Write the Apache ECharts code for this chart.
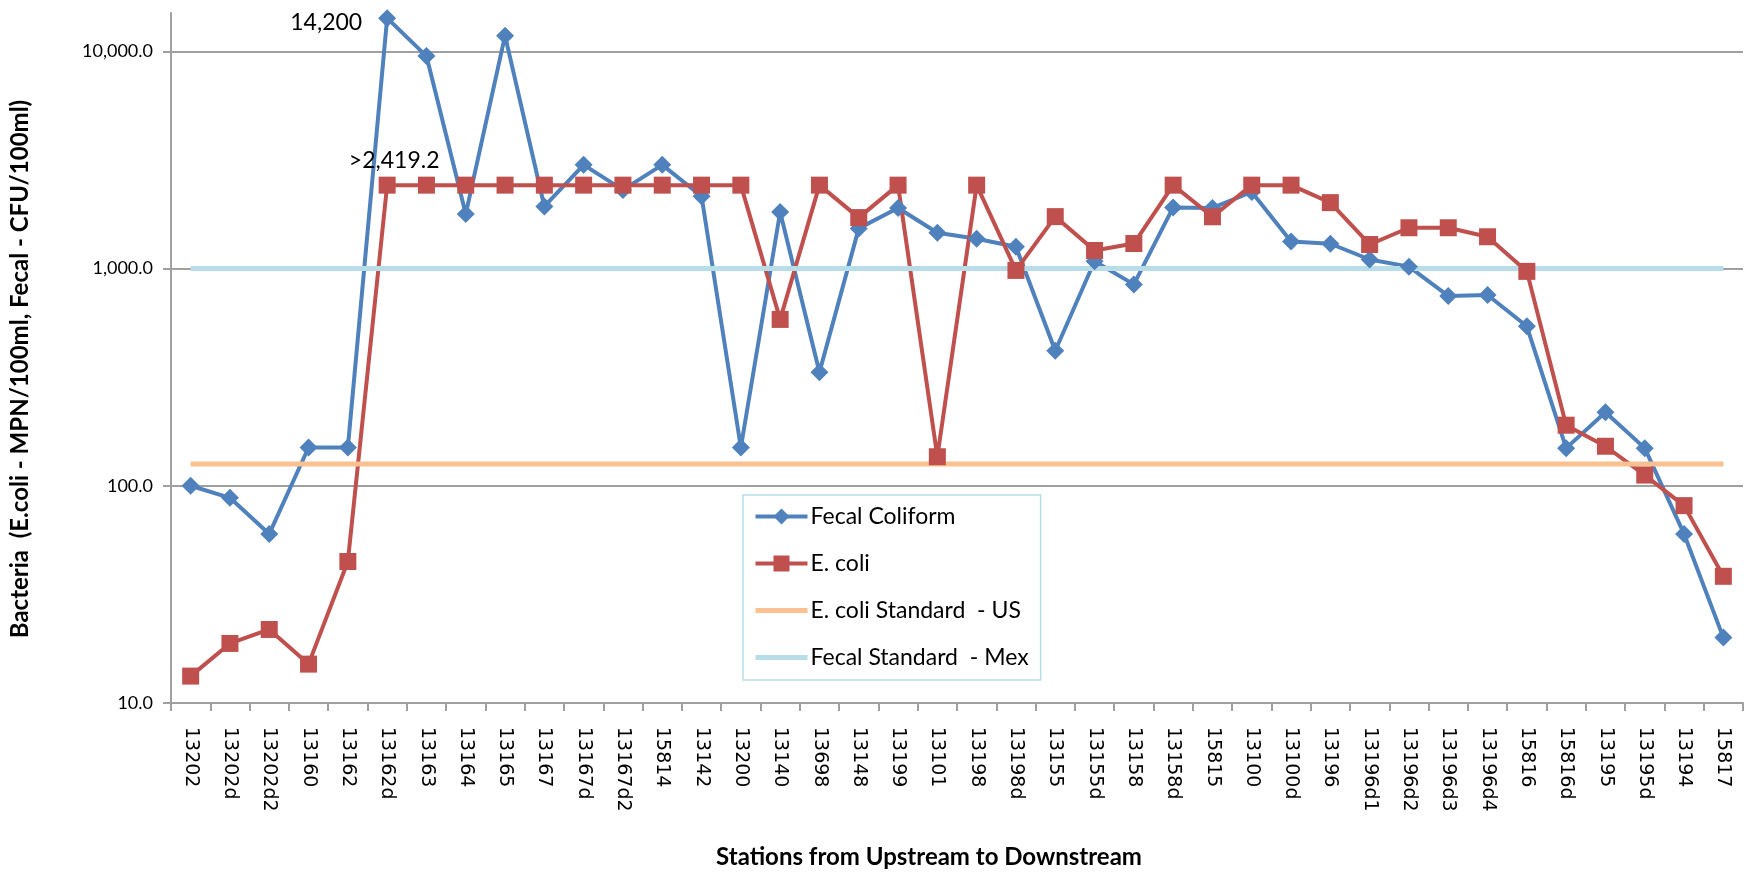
<!DOCTYPE html>
<html>
<head>
<meta charset="utf-8">
<title>Bacteria by station</title>
<script src="https://cdn.jsdelivr.net/npm/echarts@6/dist/echarts.min.js"></script>
<style>
  html, body { margin: 0; padding: 0; background: #fff; }
  #main { width: 1750px; height: 874px; }
</style>
</head>
<body>
<div id="main"></div>
<script>
// stations, upstream -> downstream
var stations = ['13202', '13202d', '13202d2', '13160', '13162', '13162d', '13163', '13164', '13165', '13167',
    '13167d', '13167d2', '15814', '13142', '13200', '13140', '13698', '13148', '13199', '13101',
    '13198', '13198d', '13155', '13155d', '13158', '13158d', '15815', '13100', '13100d', '13196',
    '13196d1', '13196d2', '13196d3', '13196d4', '15816', '15816d', '13195', '13195d', '13194', '15817'];

// Fecal coliform (CFU/100ml)
var fecal = [100, 88, 60, 150, 150, 14200, 9500, 1780, 11800, 1930,
    3000, 2300, 3000, 2150, 150, 1820, 333, 1530, 1900, 1460,
    1370, 1260, 418, 1080, 845, 1910, 1900, 2250, 1330, 1300,
    1100, 1020, 748, 755, 542, 149, 218, 149, 60, 20];

// E. coli (MPN/100ml), 2419.2 = upper detection limit
var ecoli = [13.3, 18.8, 21.8, 15.1, 44.8, 2419.2, 2419.2, 2419.2, 2419.2, 2419.2,
    2419.2, 2419.2, 2419.2, 2419.2, 2419.2, 583, 2419.2, 1715, 2419.2, 136,
    2419.2, 980, 1733, 1210, 1303, 2419.2, 1730, 2419.2, 2419.2, 2010,
    1290, 1540, 1540, 1400, 970, 190, 152, 112, 81, 38.3];

var usStandard = 126;    // E. coli standard - US
var mexStandard = 1000;  // Fecal standard - Mex

var yTicks = [10, 100, 1000, 10000];
var yMax = 15000;

var names = ['Fecal Coliform', 'E. coli', 'E. coli Standard  - US', 'Fecal Standard  - Mex'];

var fontCal = 'Lato, "Open Sans", sans-serif';
var fontTah = '"DejaVu Sans", Verdana, sans-serif';

// put a data label on one point only
function withLabel(arr, idx, text, pos, dist, off) {
    return arr.map(function (v, i) {
        if (i !== idx) return v;
        return {
            value: v,
            label: { show: true, formatter: text, position: pos, distance: dist, offset: off,
                     color: '#000', fontFamily: fontCal, fontSize: 23 }
        };
    });
}

var myChart = echarts.init(document.getElementById('main'));

var option = {
    animation: false,
    grid: { left: 171, right: 7, top: 13, bottom: 169 },
    legend: {
        orient: 'vertical',
        left: 743,
        top: 495,
        padding: [10, 12, 11, 10],
        itemGap: 24,
        itemWidth: 52,
        itemHeight: 20,
        borderColor: '#B7DEE8',
        borderWidth: 1.5,
        backgroundColor: '#fff',
        lineStyle: { width: 4 },
        textStyle: { fontFamily: fontCal, fontSize: 23, color: '#000', padding: [0, 0, 0, -2] },
        data: [
            names[0],
            names[1],
            { name: names[2], itemStyle: { opacity: 0 }, lineStyle: { width: 5 } },
            { name: names[3], itemStyle: { opacity: 0 }, lineStyle: { width: 5 } }
        ]
    },
    xAxis: {
        type: 'category',
        data: stations,
        boundaryGap: true,
        name: 'Stations from Upstream to Downstream',
        nameLocation: 'middle',
        nameGap: 142,
        nameTextStyle: { fontFamily: fontCal, fontWeight: 'bold', fontSize: 24, color: '#000',
                         padding: [0, 56, 0, 0] },
        axisLine: { lineStyle: { color: '#A0A0A0', width: 2 } },
        axisTick: { show: true, interval: 0, length: 8, lineStyle: { color: '#A0A0A0', width: 2 } },
        axisLabel: { interval: 0, rotate: -90, margin: 24, fontFamily: fontTah, fontSize: 19, color: '#000' },
        splitLine: { show: false }
    },
    yAxis: {
        type: 'log',
        logBase: 10,
        min: yTicks[0],
        max: yMax,
        name: 'Bacteria  (E.coli - MPN/100ml, Fecal - CFU/100ml)',
        nameLocation: 'middle',
        nameGap: 139,
        nameTextStyle: { fontFamily: fontCal, fontWeight: 'bold', fontSize: 24, color: '#000',
                         padding: [0, 22, 0, 0] },
        axisLine: { show: true, lineStyle: { color: '#A0A0A0', width: 2 } },
        axisTick: { show: true, length: 8, lineStyle: { color: '#A0A0A0', width: 2 } },
        axisLabel: {
            showMaxLabel: false,
            margin: 18,
            fontFamily: fontCal, fontSize: 18, color: '#000',
            formatter: function (v) {
                return v.toLocaleString('en-US', { minimumFractionDigits: 1, maximumFractionDigits: 1 });
            }
        },
        splitLine: { show: true, showMaxLine: false, lineStyle: { color: '#A0A0A0', width: 2 } }
    },
    series: [
        {
            name: names[0],
            type: 'line',
            data: withLabel(fecal, 5, '14,200', 'left', 16, [0, 4]),
            symbol: 'diamond',
            symbolSize: 18,
            color: '#4F81BD',
            lineStyle: { width: 4, color: '#4F81BD' },
            itemStyle: { color: '#4F81BD' }
        },
        {
            name: names[1],
            type: 'line',
            data: withLabel(ecoli, 5, '>2,419.2', 'top', 5, [7, 0]),
            symbol: 'rect',
            symbolSize: 17,
            color: '#C0504D',
            lineStyle: { width: 4, color: '#C0504D' },
            itemStyle: { color: '#C0504D' }
        },
        {
            name: names[2],
            type: 'line',
            data: stations.map(function () { return usStandard; }),
            symbol: 'circle',
            showSymbol: false,
            color: '#FAC090',
            lineStyle: { width: 5, color: '#FAC090' }
        },
        {
            name: names[3],
            type: 'line',
            data: stations.map(function () { return mexStandard; }),
            symbol: 'circle',
            showSymbol: false,
            color: '#B7DEE8',
            lineStyle: { width: 5, color: '#B7DEE8' }
        }
    ]
};

myChart.setOption(option);
</script>
</body>
</html>
